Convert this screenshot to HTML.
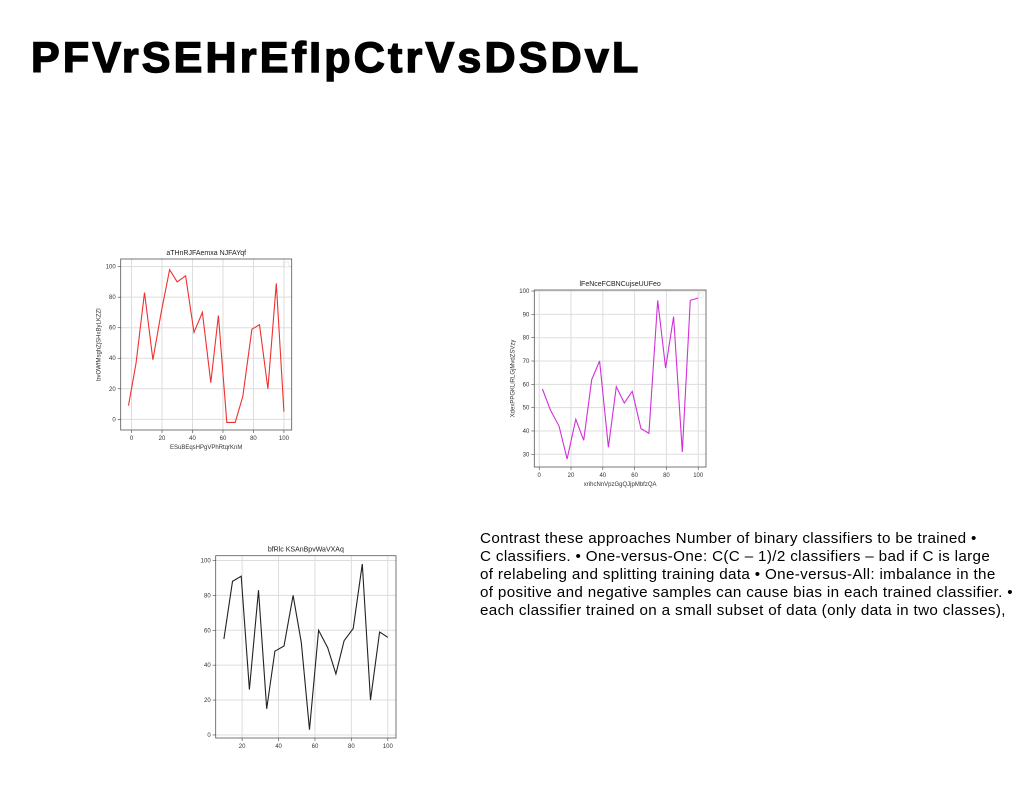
<!DOCTYPE html>
<html><head><meta charset="utf-8">
<style>
body{margin:0;width:1024px;height:788px;background:#fff;overflow:hidden;position:relative;font-family:"Liberation Sans",sans-serif}
#title{position:absolute;left:31px;top:34px;font-size:43px;font-weight:bold;letter-spacing:3.2px;margin:0;color:#000;-webkit-text-stroke:1.4px #000}
#body-text{position:absolute;left:480px;top:530px;font-size:15.2px;line-height:18px;color:#000;letter-spacing:0.35px;white-space:nowrap}
svg{position:absolute;left:0;top:0}
</style></head><body>
<h1 id="title">PFVrSEHrEfIpCtrVsDSDvL</h1>
<div id="body-text">Contrast these approaches Number of binary classifiers to be trained •<br>C classifiers. • One-versus-One: C(C – 1)/2 classifiers – bad if C is large<br>of relabeling and splitting training data • One-versus-All: imbalance in the<br>of positive and negative samples can cause bias in each trained classifier. •<br>each classifier trained on a small subset of data (only data in two classes),</div>
<svg id="charts" width="1024" height="788"></svg>
<script>
const redX=[-2,3,8.5,14,19.5,25,30,35.5,41,46.5,52,57,62.5,68,73,79,84,89.5,95,100];
const redY=[9,37,83,39,70,98,90,94,57,70,24,68,-2,-2,15,59,62,20,89,5];
const magX=[2,7,12.5,17.5,23,28,33,38,43.5,48.5,53.5,58.5,64,69,74.5,79.5,84.5,90,95,100];
const magY=[58,49,42,28,45,36,62,70,33,59,52,57,41,39,96,67,89,31,96,97];
const blkX=[10,14.7,19.5,24,29,33.5,38,43,48,52.5,57,62,67,71.5,76,81,86,90.5,95.5,100];
const blkY=[55,88,91,26,83,15,48,51,80,53,3,60,50,35,54,61,98,20,59,56];
const ticks1X=[0,20,40,60,80,100], ticks1Y=[0,20,40,60,80,100];
const ticks2X=[0,20,40,60,80,100], ticks2Y=[30,40,50,60,70,80,90,100];
const ticks3X=[20,40,60,80,100], ticks3Y=[0,20,40,60,80,100];
const titles=["aTHnRJFAemxa NJFAYqf","lFeNceFCBNCujseUUFeo","bfRlc KSAnBpvWaVXAq"];
const xlabels=["ESuBEqsHPgVPhRtqrKnM","xrihcNnVpzGgQJjpMbfzQA",""];
const ylabels=["bvOWfMsghZjSHxByLKZZI","XdexPPGKLiRLGjMvdZSVzy",""];
const NS="http://www.w3.org/2000/svg";
const svg=document.getElementById('charts');
function mk(tag,attrs,parent){const e=document.createElementNS(NS,tag);for(const k in attrs)e.setAttribute(k,attrs[k]);(parent||svg).appendChild(e);return e;}
function chart(o){
  const g=mk('g',{});
  
  
  const sx=v=>o.L+(v-o.xd[0])/(o.xd[1]-o.xd[0])*(o.R-o.L);
  const sy=v=>o.B-(v-o.yd[0])/(o.yd[1]-o.yd[0])*(o.B-o.T);
  o.tx.forEach(t=>{mk('line',{x1:sx(t),x2:sx(t),y1:o.T,y2:o.B,stroke:'#ddd','stroke-width':1},g);
    mk('line',{x1:sx(t),x2:sx(t),y1:o.B,y2:o.B+3,stroke:'#444','stroke-width':0.6},g);
    const tl=mk('text',{x:sx(t),y:o.B+10,'font-size':6,'text-anchor':'middle',fill:'#333'},g);tl.textContent=t;});
  o.ty.forEach(t=>{mk('line',{x1:o.L,x2:o.R,y1:sy(t),y2:sy(t),stroke:'#ddd','stroke-width':1},g);
    mk('line',{x1:o.L-3,x2:o.L,y1:sy(t),y2:sy(t),stroke:'#444','stroke-width':0.6},g);
    const tl=mk('text',{x:o.L-5,y:sy(t)+2,'font-size':6,'text-anchor':'end',fill:'#333'},g);tl.textContent=t;});
  const pts=o.x.map((v,i)=>sx(v).toFixed(1)+','+sy(o.y[i]).toFixed(1)).join(' ');
  const line=mk('polyline',{points:pts,fill:'none',stroke:o.color,'stroke-width':1.1},g);
  
  
  mk('rect',{x:o.L,y:o.T,width:o.R-o.L,height:o.B-o.T,fill:'none',stroke:'#555','stroke-width':0.8},g);
  if(o.legend) mk('rect',{x:o.R-7,y:o.T+3,width:4,height:5,fill:'#fff',stroke:'#ddd','stroke-width':0.5},g);
  const tt=mk('text',{x:(o.L+o.R)/2,y:o.T-4,'font-size':7,'text-anchor':'middle',fill:'#222'},g);tt.textContent=o.title;
  if(o.xl){const xl=mk('text',{x:(o.L+o.R)/2,y:o.B+19,'font-size':6,'text-anchor':'middle',fill:'#333'},g);xl.textContent=o.xl;}
  if(o.yl){const cx=o.L-20,cy=(o.T+o.B)/2;const yl=mk('text',{x:cx,y:cy,'font-size':6,'text-anchor':'middle',fill:'#333',transform:`rotate(-90 ${cx} ${cy})`},g);yl.textContent=o.yl;}
}
chart({name:'red-chart',L:120.7,R:291.7,T:259,B:430,xd:[-7.1,105.1],yd:[-7,105],x:redX,y:redY,tx:ticks1X,ty:ticks1Y,color:'#f03030',title:titles[0],xl:xlabels[0],yl:ylabels[0],legend:true});
chart({name:'magenta-chart',L:534.3,R:706,T:290,B:467,xd:[-3.1,104.9],yd:[24.55,100.45],x:magX,y:magY,tx:ticks2X,ty:ticks2Y,color:'#d030d8',title:titles[1],xl:xlabels[1],yl:ylabels[1],legend:true});
chart({name:'black-chart',L:215.7,R:396,T:555.7,B:738,xd:[5.5,104.5],yd:[-1.75,102.75],x:blkX,y:blkY,tx:ticks3X,ty:ticks3Y,color:'#222',title:titles[2],xl:'',yl:'',legend:false});
</script>
</body></html>
